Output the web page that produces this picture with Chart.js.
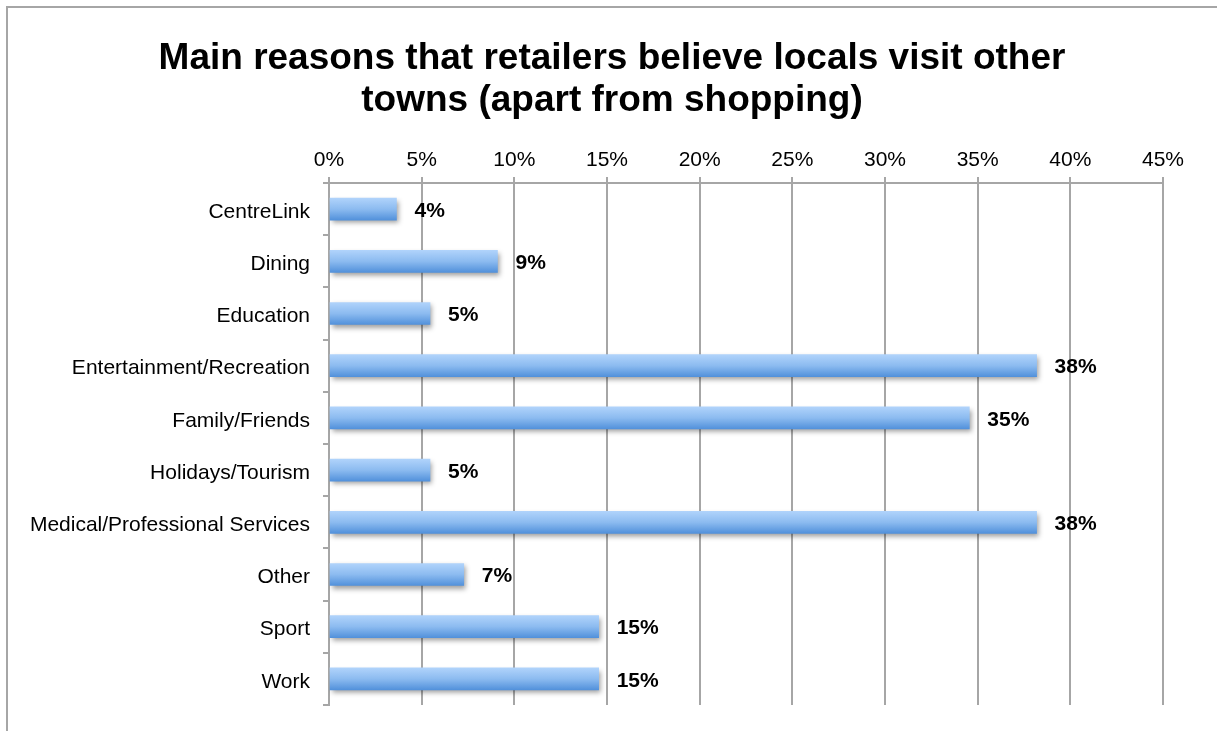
<!DOCTYPE html>
<html>
<head>
<meta charset="utf-8">
<script src="https://cdn.jsdelivr.net/npm/chart.js@4/dist/chart.umd.min.js"></script>
<style>
  html, body { margin: 0; padding: 0; background: #ffffff; overflow: hidden; }
  #frame { position: absolute; left: 6px; top: 6px; width: 1300px; height: 800px;
           border-left: 2px solid #a6a6a6; border-top: 2px solid #a6a6a6; }
  #wrap { position: absolute; left: 7px; top: 7px; width: 1210px; height: 724px; }
</style>
</head>
<body>
<div id="frame"></div>
<div id="wrap"><canvas id="chart" width="1210" height="724"></canvas></div>
<script>
// Reasons retailers give for locals travelling to other towns (share of respondents, %)
const categories = [
  'CentreLink', 'Dining', 'Education', 'Entertainment/Recreation', 'Family/Friends',
  'Holidays/Tourism', 'Medical/Professional Services', 'Other', 'Sport', 'Work'
];
const shares = [3.64, 9.09, 5.45, 38.18, 34.55, 5.45, 38.18, 7.27, 14.55, 14.55];
const tickMax = 45;
const tickStep = 5;
const titleLines = ['Main reasons that retailers believe locals visit other', 'towns (apart from shopping)'];

const FONT = '"Liberation Sans", Arial, Helvetica, sans-serif';
const GRID = '#a6a6a6';

// two-line heading, centred on the full canvas width
const heading = {
  id: 'heading',
  afterDraw(chart) {
    const ctx = chart.ctx;
    ctx.save();
    ctx.font = 'bold 37px ' + FONT;
    ctx.fillStyle = '#000000';
    ctx.textAlign = 'center';
    ctx.textBaseline = 'middle';
    titleLines.forEach((line, i) => {
      ctx.fillText(line, chart.width / 2, 52 + i * 41.6);
    });
    ctx.restore();
  }
};

// vertical gradient per bar plus a soft drop shadow
const barStyle = {
  id: 'barStyle',
  beforeDatasetDraw(chart, args) {
    const ctx = chart.ctx;
    args.meta.data.forEach(bar => {
      const half = bar.height / 2;
      if (!isFinite(bar.y) || !isFinite(half)) return;
      const g = ctx.createLinearGradient(0, bar.y - half, 0, bar.y + half);
      g.addColorStop(0, '#b0d3fb');
      g.addColorStop(0.5, '#8cbbf0');
      g.addColorStop(1, '#5291db');
      bar.options.backgroundColor = g;
    });
    ctx.save();
    ctx.shadowColor = 'rgba(0,0,0,0.38)';
    ctx.shadowBlur = 5;
    ctx.shadowOffsetX = 2;
    ctx.shadowOffsetY = 3;
  },
  afterDatasetDraw(chart) {
    chart.ctx.restore();
  }
};

// rounded percentage printed to the right of each bar
const valueLabels = {
  id: 'valueLabels',
  afterDatasetsDraw(chart) {
    const ctx = chart.ctx;
    const meta = chart.getDatasetMeta(0);
    const values = chart.data.datasets[0].data;
    ctx.save();
    ctx.font = 'bold 21px ' + FONT;
    ctx.fillStyle = '#000000';
    ctx.textAlign = 'left';
    ctx.textBaseline = 'middle';
    meta.data.forEach((bar, i) => {
      ctx.fillText(Math.round(values[i]) + '%', bar.x + 18, bar.y + 2);
    });
    ctx.restore();
  }
};

new Chart(document.getElementById('chart'), {
  type: 'bar',
  data: {
    labels: categories,
    datasets: [{
      data: shares,
      // scriptable so each bar keeps its own options object
      backgroundColor: () => '#7fb2ec',
      borderWidth: 0,
      barThickness: 22
    }]
  },
  plugins: [barStyle, valueLabels, heading],
  options: {
    indexAxis: 'y',
    responsive: false,
    animation: false,
    layout: { padding: { left: 0, right: 54, top: 114.25, bottom: 26 } },
    plugins: {
      legend: { display: false },
      tooltip: { enabled: false },
      title: { display: false }
    },
    scales: {
      x: {
        position: 'top',
        min: 0,
        max: tickMax,
        afterFit(scale) { scale.height = 61.75; },
        ticks: {
          stepSize: tickStep,
          padding: 4,
          color: '#000000',
          font: { family: FONT, size: 21 },
          callback: v => v + '%'
        },
        grid: { color: GRID, lineWidth: 2, tickLength: 6, drawOnChartArea: true },
        border: { color: GRID, width: 2 }
      },
      y: {
        afterFit(scale) { scale.width = 322; },
        ticks: {
          padding: 13,
          labelOffset: 3,
          color: '#000000',
          font: { family: FONT, size: 21 }
        },
        grid: { offset: true, drawOnChartArea: false, color: GRID, lineWidth: 2, tickLength: 6 },
        border: { color: GRID, width: 2 }
      }
    }
  }
});
</script>
</body>
</html>
